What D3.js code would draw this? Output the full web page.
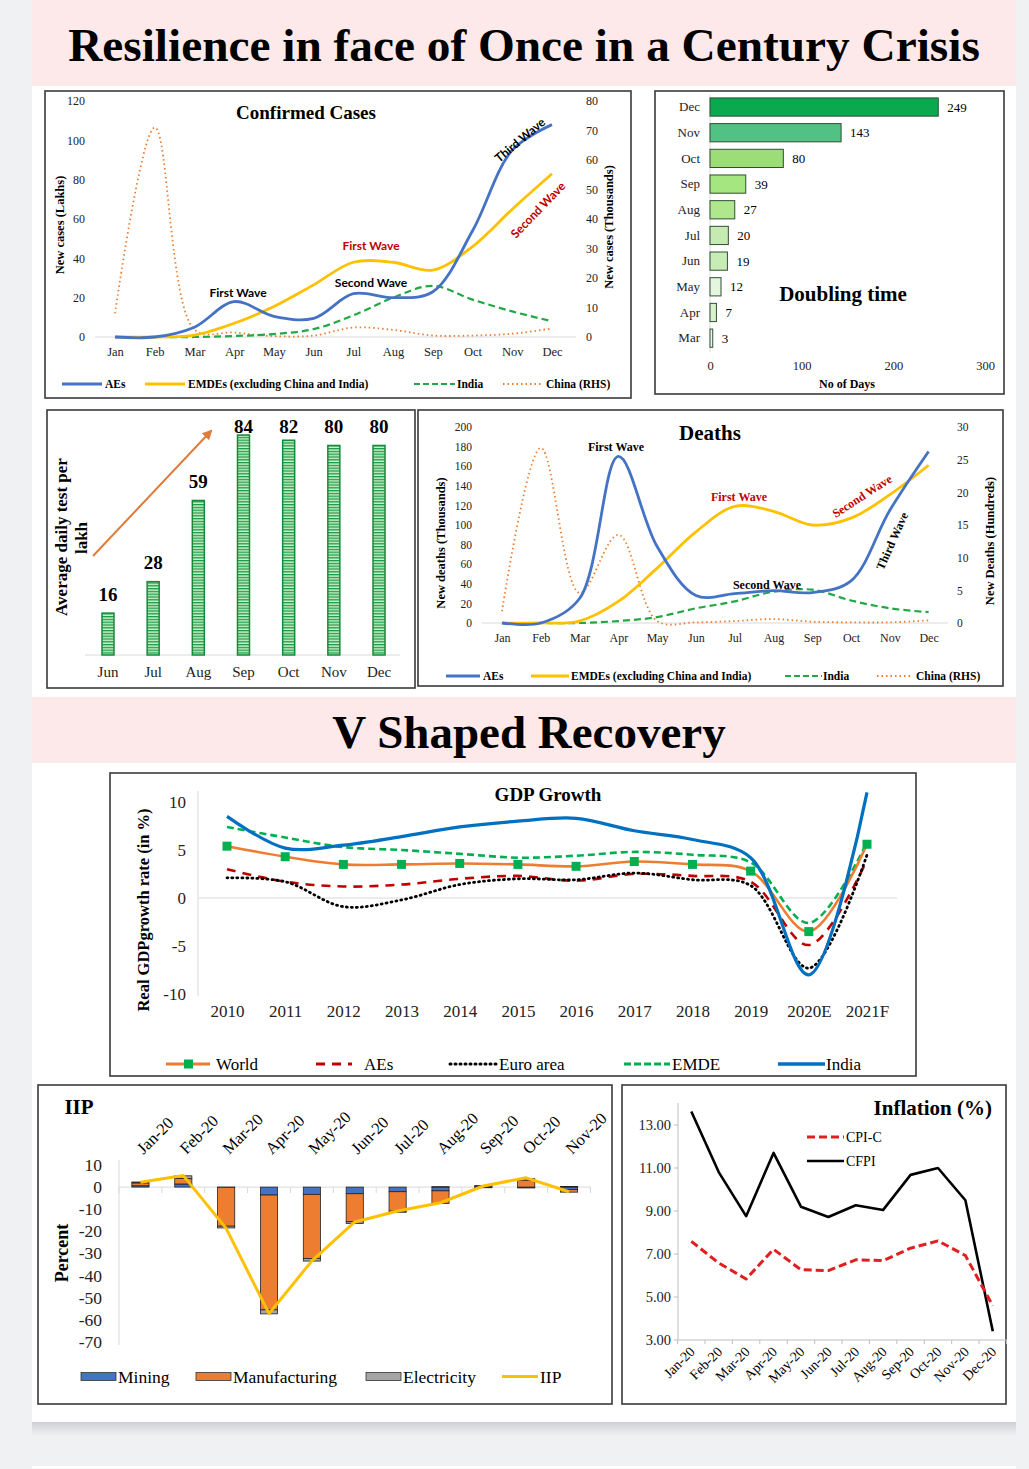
<!DOCTYPE html>
<html>
<head>
<meta charset="utf-8">
<script src="https://cdn.jsdelivr.net/npm/d3@7"></script>
<style>
    body { margin: 0; background: #f0f1f3; }
    svg { display: block; }
</style>
</head>
<body>
<svg id="chart" width="1029" height="1469"></svg>
<script>
// ---------- data ----------
const months = ["Jan", "Feb", "Mar", "Apr", "May", "Jun", "Jul", "Aug", "Sep", "Oct", "Nov", "Dec"];

// Confirmed cases (lakhs, China in thousands RHS)
const casesAEs = [0, 0, 5, 18, 10.5, 9.5, 22, 20, 23, 54, 95, 108];
const casesEMDEs = [0, 0, 1, 7, 15.5, 26.5, 38, 38, 34, 46, 65, 83];
const casesIndia = [0, 0, 0, 0.5, 1.5, 4, 11, 20, 26, 19, 13, 8];
const casesChina = [8, 71, 2.5, 1.5, 0.3, 0.5, 3.2, 2.4, 0.5, 0.5, 1.1, 2.9];

// Doubling time (days)
const doublingMonths = ["Dec", "Nov", "Oct", "Sep", "Aug", "Jul", "Jun", "May", "Apr", "Mar"];
const doublingDays = [249, 143, 80, 39, 27, 20, 19, 12, 7, 3];
const doublingColors = ["#0aa84f", "#52c184", "#9ddd78", "#a6e680", "#b0e78e", "#c5eab2", "#c8ecb6", "#e5f6df", "#d8f1cd", "#eef5ee"];

// Average daily tests per lakh
const testMonths = ["Jun", "Jul", "Aug", "Sep", "Oct", "Nov", "Dec"];
const testValues = [16, 28, 59, 84, 82, 80, 80];

// Deaths (thousands, China in hundreds RHS)
const deathsAEs = [0, 0, 25, 170, 78, 28, 30, 33, 31, 43, 115, 175];
const deathsEMDEs = [0, 0, 2, 22, 56, 93, 119, 114, 100, 107, 131, 161];
const deathsIndia = [0, 0, 0, 2, 6, 15, 22, 32, 34, 23, 15, 11];
const deathsChina = [1.8, 26.8, 4.6, 13.5, 0.3, 0.1, 0.3, 0.6, 0.2, 0.1, 0.1, 0.4];

// GDP growth (%)
const gdpYears = ["2010", "2011", "2012", "2013", "2014", "2015", "2016", "2017", "2018", "2019", "2020E", "2021F"];
const gdpWorld = [5.4, 4.3, 3.5, 3.5, 3.6, 3.5, 3.3, 3.8, 3.5, 2.8, -3.5, 5.6];
const gdpAEs = [3.0, 1.7, 1.2, 1.4, 2.0, 2.3, 1.8, 2.5, 2.3, 1.7, -4.9, 4.0];
const gdpEuro = [2.1, 1.7, -0.9, -0.2, 1.4, 2.0, 1.9, 2.6, 1.9, 1.3, -7.3, 4.5];
const gdpEMDE = [7.4, 6.3, 5.3, 5.0, 4.6, 4.2, 4.4, 4.8, 4.5, 3.7, -2.6, 5.8];
const gdpIndia = [8.5, 5.2, 5.5, 6.4, 7.4, 8.0, 8.3, 7.0, 6.1, 4.2, -8.0, 11.0];

// IIP contributions (%)
const iipMonths = ["Jan-20", "Feb-20", "Mar-20", "Apr-20", "May-20", "Jun-20", "Jul-20", "Aug-20", "Sep-20", "Oct-20", "Nov-20"];
const iipMining = [0.6, 1.4, -0.1, -3.6, -3.3, -3.0, -2.1, -1.7, -0.3, -0.4, -1.1];
const iipManufacturing = [1.3, 2.5, -17.6, -52.0, -29.0, -12.7, -8.8, -5.7, 0.3, 3.2, -1.2];
const iipElectricity = [0.4, 1.2, -0.8, -1.8, -1.2, -0.8, -0.5, 0.2, 0.4, 0.6, 0.3];
const iipTotal = [2.2, 5.2, -18.7, -57.3, -33.4, -15.8, -10.8, -7.1, 0.5, 4.2, -2.1];

// Inflation (%)
const inflMonths = ["Jan-20", "Feb-20", "Mar-20", "Apr-20", "May-20", "Jun-20", "Jul-20", "Aug-20", "Sep-20", "Oct-20", "Nov-20", "Dec-20"];
const cpiC = [7.59, 6.58, 5.84, 7.22, 6.27, 6.23, 6.73, 6.69, 7.27, 7.61, 6.93, 4.59];
const cfpi = [13.63, 10.81, 8.76, 11.7, 9.2, 8.72, 9.27, 9.05, 10.68, 11.0, 9.5, 3.41];

// ---------- helpers ----------
const serif = "'Liberation Serif', 'Times New Roman', serif";
const sans = "Lato, 'Open Sans', sans-serif";
const svg = d3.select("#chart");
const defs = svg.append("defs");
const plain = d => String(d); // keep ASCII hyphen for negatives

function text(x, y, str, o = {}) {
    return svg.append("text")
        .attr("transform", `translate(${x},${y}) rotate(${o.rotate || 0})`)
        .attr("dy", "0.35em")
        .attr("text-anchor", o.anchor || "middle")
        .attr("font-family", o.family || serif)
        .attr("font-size", o.size || 12)
        .attr("font-weight", o.weight || "normal")
        .attr("fill", o.fill || "#000")
        .text(str);
}

function panel(x, y, w, h) {
    svg.append("rect")
        .attr("x", x).attr("y", y).attr("width", w).attr("height", h)
        .attr("fill", "#fff").attr("stroke", "#3a3a3a").attr("stroke-width", 1.6);
}

function hline(x1, x2, y, color = "#d9d9d9") {
    svg.append("line").attr("x1", x1).attr("x2", x2).attr("y1", y).attr("y2", y)
        .attr("stroke", color).attr("stroke-width", 1);
}

function vline(x, y1, y2, color = "#d9d9d9") {
    svg.append("line").attr("x1", x).attr("x2", x).attr("y1", y1).attr("y2", y2)
        .attr("stroke", color).attr("stroke-width", 1);
}

function styleAxis(g, size, weight = "normal") {
    g.select(".domain").remove();
    g.selectAll(".tick line").remove();
    g.selectAll(".tick text")
        .attr("font-family", serif)
        .attr("font-size", size)
        .attr("font-weight", weight)
        .attr("fill", "#222");
}

function drawLine(data, x, y, keys, stroke, width, dash, curve) {
    const line = d3.line()
        .x((d, i) => x(keys[i]))
        .y(d => y(d))
        .curve(curve || d3.curveLinear);
    return svg.append("path")
        .datum(data)
        .attr("fill", "none")
        .attr("stroke", stroke)
        .attr("stroke-width", width)
        .attr("stroke-dasharray", dash || null)
        .attr("stroke-linejoin", "round")
        .attr("d", line);
}

function legendLine(x1, x2, y, stroke, width, dash) {
    return svg.append("line").attr("x1", x1).attr("x2", x2).attr("y1", y).attr("y2", y)
        .attr("stroke", stroke).attr("stroke-width", width)
        .attr("stroke-dasharray", dash || null);
}

// ---------- page background ----------
svg.append("rect").attr("x", 32).attr("y", 0).attr("width", 984).attr("height", 1422).attr("fill", "#fff");
const shadow = defs.append("linearGradient").attr("id", "shadow").attr("x1", 0).attr("x2", 0).attr("y1", 0).attr("y2", 1);
shadow.append("stop").attr("offset", 0).attr("stop-color", "#cfd0d3");
shadow.append("stop").attr("offset", 1).attr("stop-color", "#f0f1f3");
svg.append("rect").attr("x", 32).attr("y", 1422).attr("width", 984).attr("height", 14).attr("fill", "url(#shadow)");
svg.append("rect").attr("x", 32).attr("y", 1466).attr("width", 984).attr("height", 3).attr("fill", "#fff");

svg.append("rect").attr("x", 32).attr("y", 0).attr("width", 984).attr("height", 86).attr("fill", "#fde8ea");
svg.append("rect").attr("x", 32).attr("y", 697).attr("width", 984).attr("height", 66).attr("fill", "#fde8ea");
text(524, 44, "Resilience in face of Once in a Century Crisis", { size: 47.3, weight: "bold" });
text(529, 732, "V Shaped Recovery", { size: 47, weight: "bold" });

// ---------- Confirmed cases ----------
{
    panel(45, 91, 586, 307);
    const x = d3.scalePoint().domain(months).range([115, 552]);
    const yL = d3.scaleLinear().domain([0, 120]).range([337, 101]);
    const yR = d3.scaleLinear().domain([0, 80]).range([337, 101]);

    hline(95, 576, 337);
    svg.append("g").attr("transform", "translate(85,0)")
        .call(d3.axisLeft(yL).tickValues(d3.range(0, 121, 20)).tickSize(0).tickPadding(0))
        .call(g => styleAxis(g, 12));
    svg.append("g").attr("transform", "translate(586,0)")
        .call(d3.axisRight(yR).tickValues(d3.range(0, 81, 10)).tickSize(0).tickPadding(0))
        .call(g => styleAxis(g, 12));
    svg.append("g").attr("transform", "translate(0,345)")
        .call(d3.axisBottom(x).tickSize(0).tickPadding(2))
        .call(g => styleAxis(g, 12.5));

    drawLine(casesChina, x, yR, months, "#ed7d31", 1.8, "1.5,3", d3.curveCatmullRom);
    drawLine(casesIndia, x, yL, months, "#22a845", 2.2, "7,4", d3.curveCatmullRom);
    drawLine(casesEMDEs, x, yL, months, "#ffc000", 2.8, null, d3.curveCatmullRom);
    drawLine(casesAEs, x, yL, months, "#4472c4", 2.8, null, d3.curveCatmullRom);

    text(306, 112, "Confirmed Cases", { size: 19, weight: "bold" });
    text(60, 225, "New cases (Lakhs)", { size: 12.5, weight: "bold", rotate: -90 });
    text(609, 227, "New cases (Thousands)", { size: 12.5, weight: "bold", rotate: -90 });

    text(238, 293, "First Wave", { size: 12, weight: "bold", family: sans });
    text(371, 283, "Second Wave", { size: 12, weight: "bold", family: sans });
    text(371, 246, "First Wave", { size: 12, weight: "bold", family: sans, fill: "#c00000" });
    text(520, 140, "Third Wave", { size: 12, weight: "bold", family: sans, rotate: -40 });
    text(538, 210, "Second Wave", { size: 12, weight: "bold", family: sans, fill: "#c00000", rotate: -46 });

    legendLine(62, 102, 384, "#4472c4", 3);
    text(105, 384, "AEs", { size: 11.5, weight: "bold", anchor: "start" });
    legendLine(145, 185, 384, "#ffc000", 3);
    text(188, 384, "EMDEs (excluding China and India)", { size: 11.5, weight: "bold", anchor: "start" });
    legendLine(414, 455, 384, "#22a845", 2.2, "6,3");
    text(457, 384, "India", { size: 11.5, weight: "bold", anchor: "start" });
    legendLine(503, 542, 384, "#ed7d31", 1.8, "1.5,3");
    text(546, 384, "China (RHS)", { size: 11.5, weight: "bold", anchor: "start" });
}

// ---------- Doubling time ----------
{
    panel(655, 91, 349, 303);
    const x = d3.scaleLinear().domain([0, 300]).range([710, 985]);
    const y = d3.scaleBand().domain(doublingMonths).range([94.2, 351]).paddingInner(0.29).paddingOuter(0.145);

    vline(710, 95, 352);
    svg.append("g").attr("transform", "translate(700,0)")
        .call(d3.axisLeft(y).tickSize(0).tickPadding(0))
        .call(g => styleAxis(g, 13));
    svg.append("g").attr("transform", "translate(0,361)")
        .call(d3.axisBottom(x).tickValues([0, 100, 200, 300]).tickSize(0).tickPadding(0))
        .call(g => styleAxis(g, 12.5));

    svg.selectAll(".dbar")
        .data(doublingDays)
        .enter()
        .append("rect")
        .attr("x", x(0))
        .attr("y", (d, i) => y(doublingMonths[i]))
        .attr("width", d => x(d) - x(0))
        .attr("height", y.bandwidth())
        .attr("fill", (d, i) => doublingColors[i])
        .attr("stroke", "#2f4f35")
        .attr("stroke-width", 1);

    doublingDays.forEach((d, i) => {
        text(x(d) + 9, y(doublingMonths[i]) + y.bandwidth() / 2, d, { size: 13, anchor: "start" });
    });

    text(843, 294, "Doubling time", { size: 21, weight: "bold" });
    text(847, 384, "No of Days", { size: 12, weight: "bold" });
}

// ---------- Tests per lakh ----------
{
    panel(47, 410, 368, 278);
    const x = d3.scaleBand().domain(testMonths).range([85.4, 401.6]);
    const y = d3.scaleLinear().domain([0, 84]).range([655, 435]);

    const pat = defs.append("pattern").attr("id", "stripes")
        .attr("patternUnits", "userSpaceOnUse").attr("width", 6).attr("height", 2.8);
    pat.append("rect").attr("width", 6).attr("height", 2.8).attr("fill", "#c9f0cb");
    pat.append("rect").attr("width", 6).attr("height", 1.3).attr("fill", "#1e9a45");

    hline(85, 400, 655);
    svg.selectAll(".tbar")
        .data(testValues)
        .enter()
        .append("rect")
        .attr("x", (d, i) => x(testMonths[i]) + x.bandwidth() / 2 - 6)
        .attr("y", d => y(d))
        .attr("width", 12)
        .attr("height", d => y(0) - y(d))
        .attr("fill", "url(#stripes)")
        .attr("stroke", "#178a3a")
        .attr("stroke-width", 1.5);

    // labels sit above the bar, but never above the plot top
    testValues.forEach((d, i) => {
        text(x(testMonths[i]) + x.bandwidth() / 2, Math.max(y(d) - 19, 426), d, { size: 19, weight: "bold" });
    });
    svg.append("g").attr("transform", "translate(0,666)")
        .call(d3.axisBottom(x).tickSize(0).tickPadding(0))
        .call(g => styleAxis(g, 15));

    text(61, 537, "Average daily test per", { size: 17, weight: "bold", rotate: -90 });
    text(81, 538, "lakh", { size: 17, weight: "bold", rotate: -90 });

    const arrow = defs.append("marker").attr("id", "arrowhead")
        .attr("viewBox", "0 0 10 10").attr("refX", 8).attr("refY", 5)
        .attr("markerWidth", 5).attr("markerHeight", 5).attr("orient", "auto");
    arrow.append("path").attr("d", "M0,0 L10,5 L0,10 z").attr("fill", "#e07b39");
    svg.append("line").attr("x1", 93).attr("y1", 556).attr("x2", 211).attr("y2", 431)
        .attr("stroke", "#e07b39").attr("stroke-width", 2).attr("marker-end", "url(#arrowhead)");
}

// ---------- Deaths ----------
{
    panel(418, 410, 585, 276);
    const x = d3.scalePoint().domain(months).range([502, 928.6]);
    const yL = d3.scaleLinear().domain([0, 200]).range([623, 427]);
    const yR = d3.scaleLinear().domain([0, 30]).range([623, 427]);

    hline(482, 948, 623);
    svg.append("g").attr("transform", "translate(472,0)")
        .call(d3.axisLeft(yL).tickValues(d3.range(0, 201, 20)).tickSize(0).tickPadding(0))
        .call(g => styleAxis(g, 11.5));
    svg.append("g").attr("transform", "translate(957,0)")
        .call(d3.axisRight(yR).tickValues(d3.range(0, 31, 5)).tickSize(0).tickPadding(0))
        .call(g => styleAxis(g, 11.5));
    svg.append("g").attr("transform", "translate(0,631)")
        .call(d3.axisBottom(x).tickSize(0).tickPadding(2))
        .call(g => styleAxis(g, 12));

    drawLine(deathsChina, x, yR, months, "#ed7d31", 1.8, "1.5,3", d3.curveCatmullRom);
    drawLine(deathsIndia, x, yL, months, "#22a845", 2.2, "7,4", d3.curveCatmullRom);
    drawLine(deathsEMDEs, x, yL, months, "#ffc000", 2.8, null, d3.curveCatmullRom);
    drawLine(deathsAEs, x, yL, months, "#4472c4", 2.8, null, d3.curveCatmullRom);

    text(710, 433, "Deaths", { size: 21, weight: "bold" });
    text(441, 543, "New deaths (Thousands)", { size: 12.5, weight: "bold", rotate: -90 });
    text(990, 541, "New Deaths (Hundreds)", { size: 12.5, weight: "bold", rotate: -90 });

    text(616, 447, "First Wave", { size: 12, weight: "bold" });
    text(739, 497, "First Wave", { size: 12, weight: "bold", fill: "#c00000" });
    text(767, 585, "Second Wave", { size: 12, weight: "bold" });
    text(862, 496, "Second Wave", { size: 12, weight: "bold", fill: "#c00000", rotate: -33 });
    text(892, 541, "Third Wave", { size: 12, weight: "bold", rotate: -66 });

    legendLine(446, 480, 676, "#4472c4", 3);
    text(483, 676, "AEs", { size: 11.5, weight: "bold", anchor: "start" });
    legendLine(531, 569, 676, "#ffc000", 3);
    text(571, 676, "EMDEs (excluding China and India)", { size: 11.5, weight: "bold", anchor: "start" });
    legendLine(785, 822, 676, "#22a845", 2.2, "6,3");
    text(823, 676, "India", { size: 11.5, weight: "bold", anchor: "start" });
    legendLine(877, 912, 676, "#ed7d31", 1.8, "1.5,3");
    text(916, 676, "China (RHS)", { size: 11.5, weight: "bold", anchor: "start" });
}

// ---------- GDP growth ----------
{
    panel(110, 773, 806, 303);
    const x = d3.scalePoint().domain(gdpYears).range([227, 867]);
    const y = d3.scaleLinear().domain([-10, 10]).range([994, 802]);

    vline(198, 791, 996);
    hline(198, 897, y(0));
    svg.append("g").attr("transform", "translate(186,0)")
        .call(d3.axisLeft(y).tickValues([-10, -5, 0, 5, 10]).tickFormat(plain).tickSize(0).tickPadding(0))
        .call(g => styleAxis(g, 17));
    svg.append("g").attr("transform", "translate(0,1005)")
        .call(d3.axisBottom(x).tickSize(0).tickPadding(0))
        .call(g => styleAxis(g, 17));

    drawLine(gdpEMDE, x, y, gdpYears, "#00b050", 2.6, "7,4", d3.curveCatmullRom);
    drawLine(gdpWorld, x, y, gdpYears, "#ed7d31", 2.6, null, d3.curveCatmullRom);
    drawLine(gdpAEs, x, y, gdpYears, "#c00000", 2.6, "9,7", d3.curveCatmullRom);
    drawLine(gdpEuro, x, y, gdpYears, "#000", 2.8, "1,4", d3.curveCatmullRom).attr("stroke-linecap", "round");
    drawLine(gdpIndia, x, y, gdpYears, "#0070c0", 3.2, null, d3.curveCatmullRom);

    svg.selectAll(".wmark")
        .data(gdpWorld)
        .enter()
        .append("rect")
        .attr("x", (d, i) => x(gdpYears[i]) - 4.5)
        .attr("y", d => y(d) - 4.5)
        .attr("width", 9).attr("height", 9)
        .attr("fill", "#00b050");

    text(548, 794, "GDP Growth", { size: 19, weight: "bold" });
    text(143, 910, "Real GDPgrowth rate (in %)", { size: 16.5, weight: "bold", rotate: -90 });

    legendLine(166, 210, 1064, "#ed7d31", 3);
    svg.append("rect").attr("x", 184).attr("y", 1059.5).attr("width", 9).attr("height", 9).attr("fill", "#00b050");
    text(216, 1064, "World", { size: 17, anchor: "start" });
    legendLine(316, 352, 1064, "#c00000", 3, "9,7");
    text(364, 1064, "AEs", { size: 17, anchor: "start" });
    legendLine(450, 496, 1064, "#000", 3, "1,4").attr("stroke-linecap", "round");
    text(499, 1064, "Euro area", { size: 17, anchor: "start" });
    legendLine(624, 670, 1064, "#00b050", 3, "7,3");
    text(672, 1064, "EMDE", { size: 17, anchor: "start" });
    legendLine(778, 825, 1064, "#0070c0", 3.5);
    text(826, 1064, "India", { size: 17, anchor: "start" });
}

// ---------- IIP ----------
{
    panel(38, 1085, 574, 319);
    const x = d3.scaleBand().domain(iipMonths).range([119, 590.5]).paddingInner(0.6).paddingOuter(0.3);
    const xc = m => x(m) + x.bandwidth() / 2;
    const y = d3.scaleLinear().domain([-70, 10]).range([1341.7, 1165]);

    vline(119, 1160, 1345);
    hline(119, 591, y(0));
    const step = (590.5 - 119) / iipMonths.length;
    d3.range(iipMonths.length + 1).forEach(i => {
        svg.append("line").attr("x1", 119 + i * step).attr("x2", 119 + i * step)
            .attr("y1", y(0)).attr("y2", y(0) + 6).attr("stroke", "#d9d9d9");
    });

    svg.append("g").attr("transform", "translate(102,0)")
        .call(d3.axisLeft(y).tickValues(d3.range(-70, 11, 10)).tickFormat(plain).tickSize(0).tickPadding(0))
        .call(g => styleAxis(g, 17.5));

    const rows = iipMonths.map((m, i) => ({
        month: m,
        Mining: iipMining[i],
        Manufacturing: iipManufacturing[i],
        Electricity: iipElectricity[i]
    }));
    const colors = { Mining: "#4472c4", Manufacturing: "#ed7d31", Electricity: "#a5a5a5" };
    const stacked = d3.stack().keys(["Mining", "Manufacturing", "Electricity"])
        .offset(d3.stackOffsetDiverging)(rows);

    stacked.forEach(s => {
        svg.selectAll(".b" + s.key)
            .data(s)
            .enter()
            .append("rect")
            .attr("x", d => x(d.data.month))
            .attr("y", d => y(Math.max(d[0], d[1])))
            .attr("width", x.bandwidth())
            .attr("height", d => Math.abs(y(d[0]) - y(d[1])))
            .attr("fill", colors[s.key])
            .attr("stroke", "#222")
            .attr("stroke-width", 0.8);
    });

    drawLine(iipTotal, xc, y, iipMonths, "#ffc000", 3);

    iipMonths.forEach(m => {
        text(xc(m) - 1, 1151, m, { size: 16.5, anchor: "start", rotate: -45 });
    });

    text(79, 1107, "IIP", { size: 21, weight: "bold" });
    text(62, 1253, "Percent", { size: 18, weight: "bold", rotate: -90 });

    const leg = [["Mining", 81, "#4472c4"], ["Manufacturing", 196, "#ed7d31"], ["Electricity", 366, "#a5a5a5"]];
    leg.forEach(([name, lx, c]) => {
        svg.append("rect").attr("x", lx).attr("y", 1372.5).attr("width", 35).attr("height", 8)
            .attr("fill", c).attr("stroke", "#333").attr("stroke-width", 0.8);
        text(lx + 37, 1376.5, name, { size: 17.5, anchor: "start" });
    });
    legendLine(502, 538, 1376.5, "#ffc000", 3);
    text(540, 1376.5, "IIP", { size: 17.5, anchor: "start" });
}

// ---------- Inflation ----------
{
    panel(622, 1085, 384, 319);
    const x = d3.scaleBand().domain(inflMonths).range([677.6, 1006.5]);
    const xc = m => x(m) + x.bandwidth() / 2;
    const y = d3.scaleLinear().domain([3, 14]).range([1340, 1103.5]);

    vline(678, 1103, 1340, "#bfbfbf");
    hline(678, 1007, 1340, "#bfbfbf");
    [3, 5, 7, 9, 11, 13].forEach(v => {
        svg.append("line").attr("x1", 674).attr("x2", 678).attr("y1", y(v)).attr("y2", y(v)).attr("stroke", "#bfbfbf");
    });
    d3.range(inflMonths.length + 1).forEach(i => {
        const bx = 677.6 + i * x.step();
        svg.append("line").attr("x1", bx).attr("x2", bx).attr("y1", 1340).attr("y2", 1344).attr("stroke", "#bfbfbf");
    });

    svg.append("g").attr("transform", "translate(671,0)")
        .call(d3.axisLeft(y).tickValues([3, 5, 7, 9, 11, 13]).tickFormat(d3.format(".2f")).tickSize(0).tickPadding(0))
        .call(g => styleAxis(g, 14.5));

    inflMonths.forEach(m => {
        text(xc(m) + 1, 1349, m, { size: 14, anchor: "end", rotate: -45 });
    });

    drawLine(cfpi, xc, y, inflMonths, "#000", 2.6);
    drawLine(cpiC, xc, y, inflMonths, "#e02020", 3, "8,4");

    text(992, 1108, "Inflation (%)", { size: 21, weight: "bold", anchor: "end" });
    legendLine(807, 844, 1137, "#e02020", 3, "8,4");
    text(846, 1137, "CPI-C", { size: 14, anchor: "start" });
    legendLine(807, 844, 1161, "#000", 2.6);
    text(846, 1161, "CFPI", { size: 14, anchor: "start" });
}
</script>
</body>
</html>
